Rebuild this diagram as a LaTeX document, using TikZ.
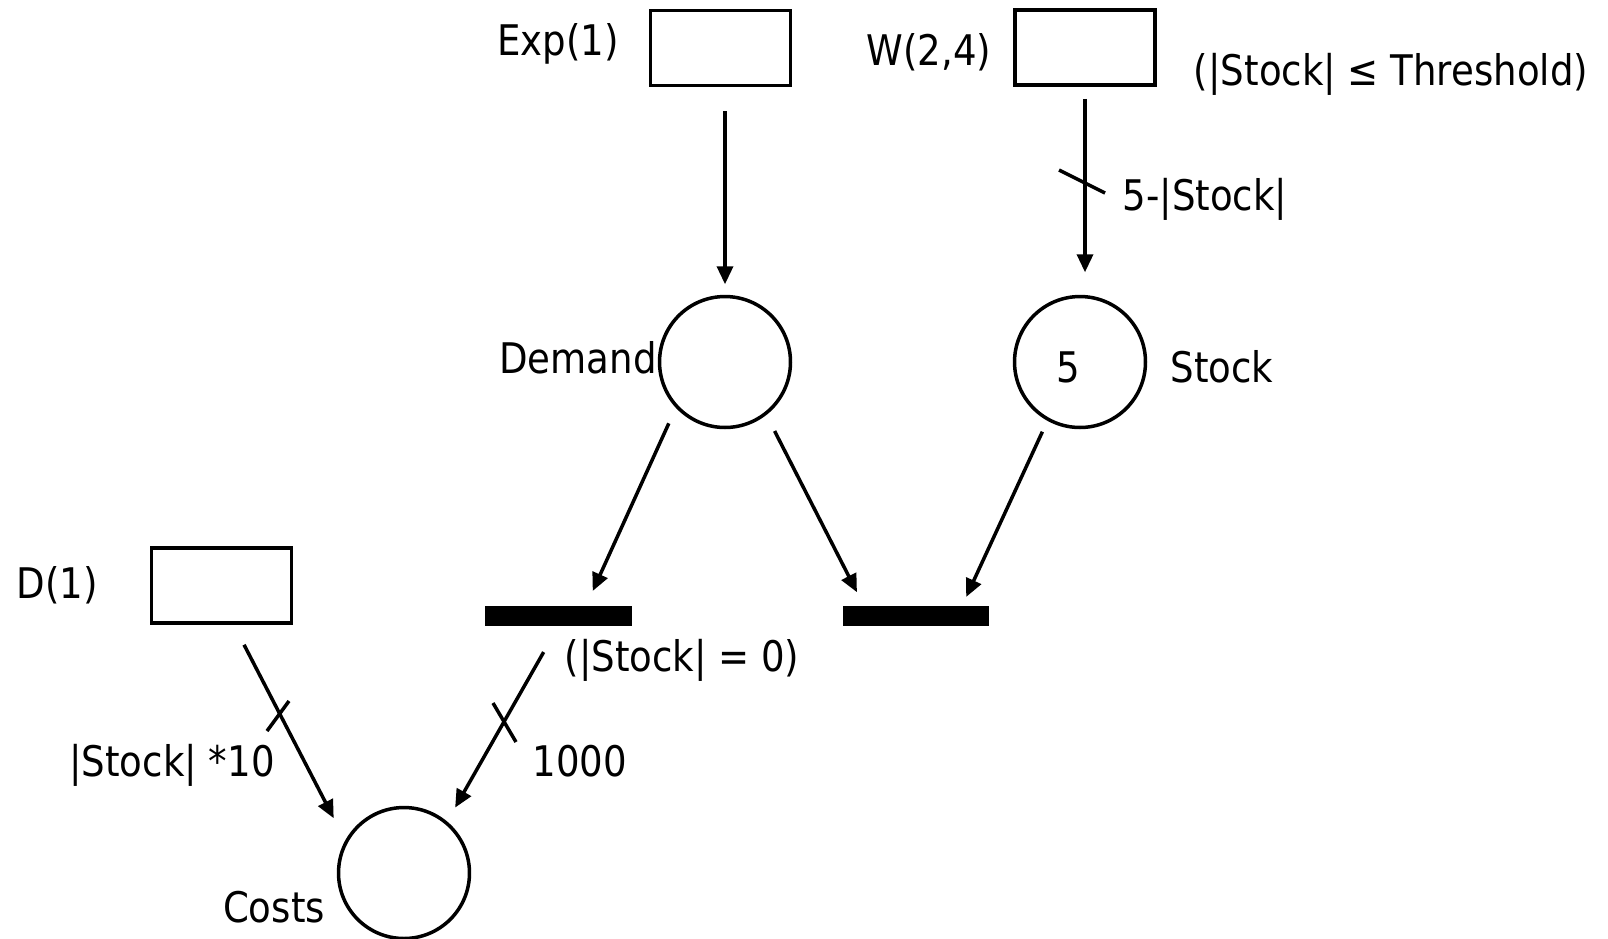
\documentclass[tikz,border=0pt]{standalone}
\usepackage{fontspec}
\setmainfont{DejaVu Sans}[FakeStretch=0.88]
\usetikzlibrary{arrows.meta,calc}
\begin{document}
\begin{tikzpicture}[x=0.02cm,y=-0.02cm,
  every node/.style={font=\fontsize{24pt}{28pt}\selectfont},
  trans/.style={draw, line width=0.07cm, minimum width=2.8cm, minimum height=1.5cm, inner sep=0pt},
  place/.style={draw, circle, line width=0.07cm, minimum size=2.62cm, inner sep=0pt},
  bar/.style={fill=black, minimum width=2.93cm, minimum height=0.4cm, inner sep=0pt, outer sep=0pt},
  arc/.style={line width=0.07cm, -{Triangle[length=0.36cm,width=0.32cm]}},
  tick/.style={line width=0.07cm},
  lab/.style={anchor=base, inner sep=0pt}]
\useasboundingbox (0,0) rectangle (1608,938);
% transitions and places
\node[trans] (exp) at (720.5,48) {};
\node[trans] (wbox) at (1085,47.5) {};
\node[trans] (dbox) at (221.5,585.5) {};
\node[place] (demand) at (725,362) {};
\node[place] (stock) at (1080,362) {};
\node[place] (costs) at (404,873) {};
\node[bar] (barL) at (558.5,616) {};
\node[bar] (barR) at (916,616) {};
% labels
\node[lab] (lexp) at (558,55) {Exp(1)};
\node[lab] (lw) at (929,65) {W(2,4)};
\node[lab] (lguard1) at (1391,85) {(|Stock| ≤ Threshold)};
\node[lab] (l5s) at (1205,210) {5-|Stock|};
\node[lab] (ldem) at (578,373) {Demand};
\node[lab] (tok) at (1068,382) {5};
\node[lab] (lstock) at (1222,382) {Stock};
\node[lab] (ld) at (57,598) {D(1)};
\node[lab] (lguard2) at (682,671) {(|Stock| = 0)};
\node[lab] (lw10) at (172,776) {|Stock| *10};
\node[lab] (l1000) at (580,776) {1000};
\node[lab] (lcosts) at (274,922) {Costs};
% connectors
\draw[arc, shorten <=0.48cm, shorten >=0.21cm] (exp.south -| demand.north) -- (demand.north);
\draw[arc, shorten <=0.24cm, shorten >=0.45cm] (wbox.south) -- (wbox.south |- stock.north);
\draw[arc, shorten <=0.34cm, shorten >=0.33cm] (demand.223) -- ($(barL.north west)!0.687!(barL.north east)$);
\draw[arc, shorten <=0.36cm, shorten >=0.31cm] (demand.308) -- ($(barR.north west)!0.145!(barR.north east)$);
\draw[arc, shorten <=0.24cm, shorten >=0.2cm] (stock.241) -- ($(barR.north west)!0.814!(barR.north east)$);
\draw[arc, shorten <=0.45cm, shorten >=0.5cm] ($(dbox.south west)!0.585!(dbox.south east)$) -- (costs.151);
\draw[arc, shorten <=0.6cm, shorten >=0.32cm] (barL.south) -- (costs.50);
% arc weight ticks
\draw[tick] (1059,170) -- (1105,193);
\draw[tick] (267,731) -- (289,701);
\draw[tick] (493,703) -- (516,742);
\end{tikzpicture}
\end{document}
